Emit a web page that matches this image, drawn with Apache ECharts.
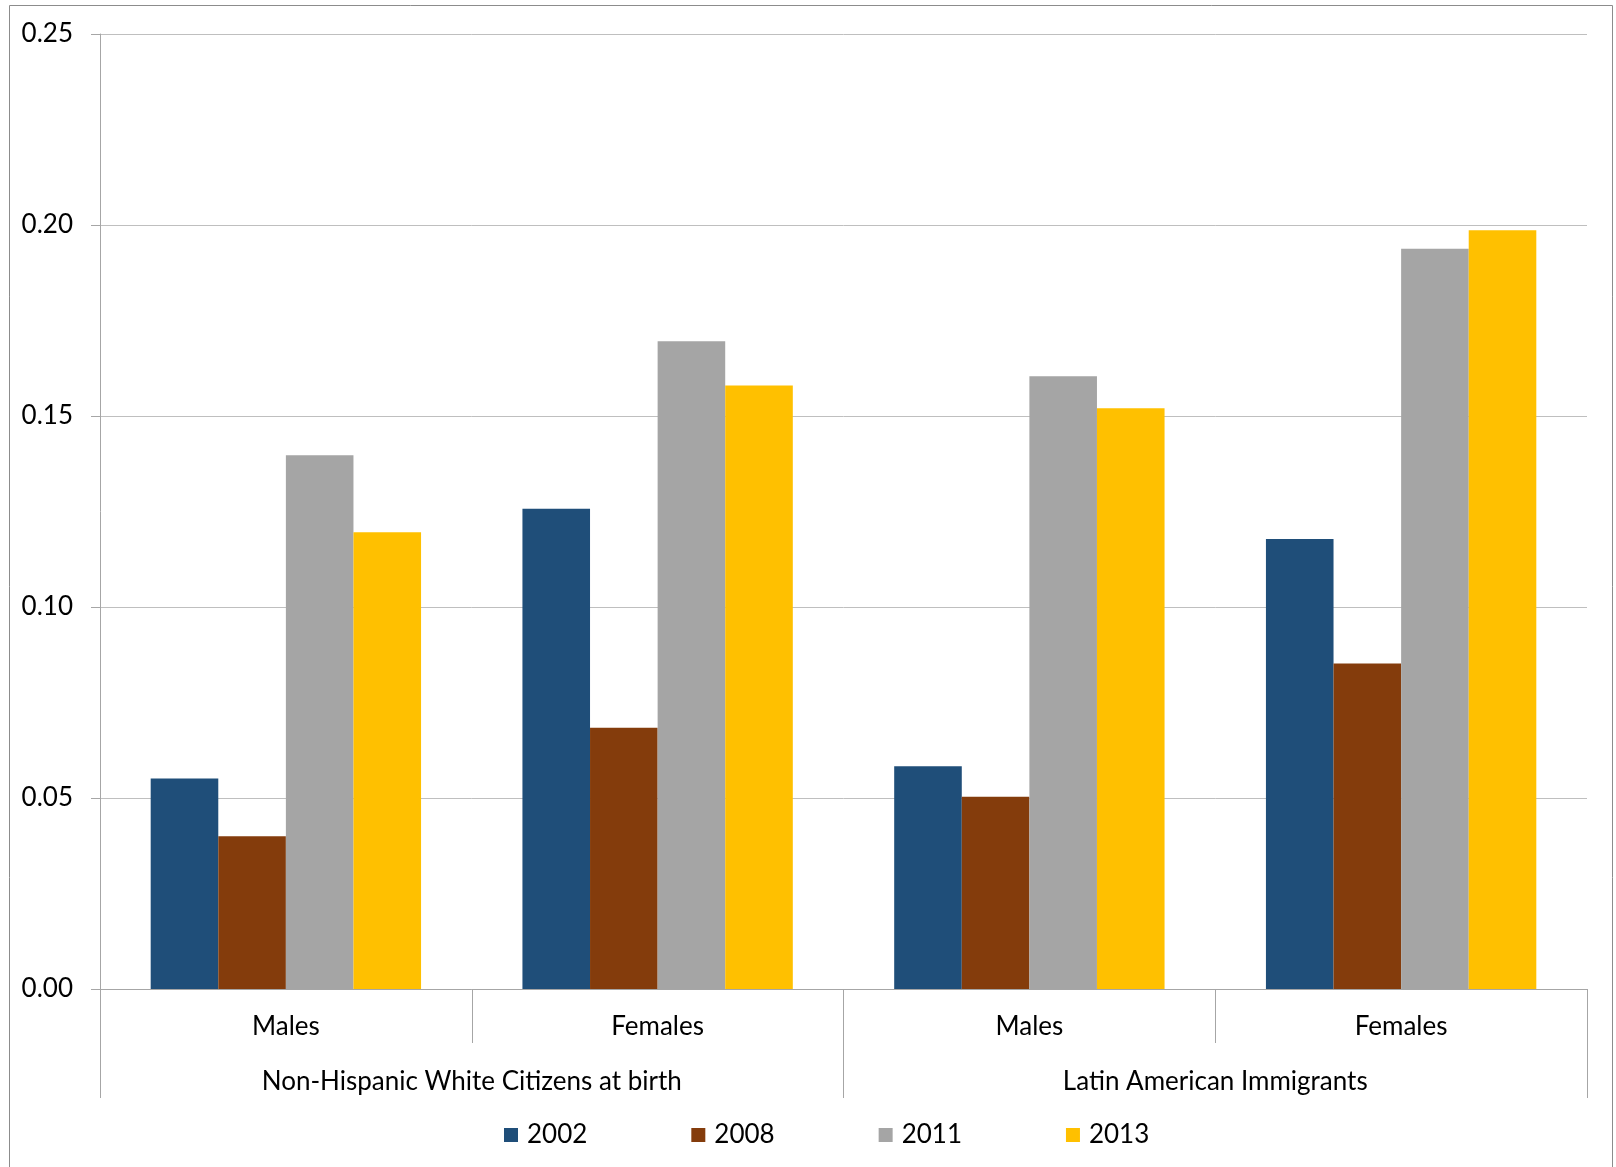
<!DOCTYPE html>
<html>
<head>
<meta charset="utf-8">
<script src="https://cdn.jsdelivr.net/npm/echarts@6/dist/echarts.min.js"></script>
<style>
html,body{margin:0;padding:0;background:#fff;}
#chart{width:1616px;height:1167px;}
</style>
</head>
<body>
<div id="chart"></div>
<script>
const subCategories = ['Males', 'Females', 'Males', 'Females'];
const groupCategories = ['Non-Hispanic White Citizens at birth', 'Latin American Immigrants'];
const seriesNames = ['2002', '2008', '2011', '2013'];
const values2002 = [0.0551, 0.1257, 0.0583, 0.1178];
const values2008 = [0.0400, 0.0684, 0.0503, 0.0852];
const values2011 = [0.1397, 0.1696, 0.1604, 0.1938];
const values2013 = [0.1196, 0.1580, 0.1520, 0.1986];
const yTicks = [0, 0.05, 0.10, 0.15, 0.20, 0.25];

const colors = ['#1F4E79', '#843C0C', '#A5A5A5', '#FFC000'];
const seriesValues = [values2002, values2008, values2011, values2013];
const FONT = 'Lato';
const FS = 26;
const AXIS_GRAY = '#A6A6A6';

const chart = echarts.init(document.getElementById('chart'), null, {renderer: 'canvas'});
chart.setOption({
  animation: false,
  backgroundColor: '#fff',
  textStyle: {fontFamily: FONT, color: '#000'},
  graphic: [{
    type: 'rect',
    shape: {x: 9.5, y: 5.5, width: 1603, height: 1200},
    style: {fill: 'none', stroke: '#8C8C8C', lineWidth: 1},
    silent: true,
    z: -10
  }],
  grid: {left: 100, right: 29, top: 34, bottom: 178, containLabel: false},
  legend: {
    data: seriesNames,
    left: 504,
    top: 1122,
    padding: 0,
    icon: 'rect',
    itemWidth: 14,
    itemHeight: 14,
    itemGap: 104,
    textStyle: {fontFamily: FONT, fontSize: FS, color: '#000', padding: [0, 0, 0, 4]}
  },
  xAxis: [{
    type: 'category',
    data: subCategories,
    position: 'bottom',
    boundaryGap: true,
    axisLine: {show: true, lineStyle: {color: AXIS_GRAY, width: 1}},
    axisTick: {show: true, interval: 0, alignWithLabel: false, length: 54, lineStyle: {color: AXIS_GRAY}},
    axisLabel: {interval: 0, margin: 25, fontFamily: FONT, fontSize: FS, color: '#000'},
    splitLine: {show: false}
  }, {
    type: 'category',
    data: groupCategories,
    position: 'bottom',
    offset: 54,
    boundaryGap: true,
    axisLine: {show: false},
    axisTick: {show: true, interval: 0, alignWithLabel: false, length: 55, lineStyle: {color: AXIS_GRAY}},
    axisLabel: {interval: 0, margin: 26, fontFamily: FONT, fontSize: FS, color: '#000'},
    splitLine: {show: false}
  }],
  yAxis: {
    type: 'value',
    min: yTicks[0],
    max: yTicks[yTicks.length - 1],
    interval: 0.05,
    axisLine: {show: true, lineStyle: {color: AXIS_GRAY}},
    axisTick: {show: true, length: 9, lineStyle: {color: AXIS_GRAY}},
    axisLabel: {margin: 27, fontFamily: FONT, fontSize: FS, color: '#000', formatter: v => v.toFixed(2)},
    splitLine: {show: true, lineStyle: {color: '#BFBFBF', width: 1}}
  },
  series: seriesNames.map((name, i) => ({
    name: name,
    type: 'bar',
    xAxisIndex: 0,
    data: seriesValues[i],
    itemStyle: {color: colors[i]},
    barGap: '0%',
    barCategoryGap: '27.27%'
  }))
});
</script>
</body>
</html>
